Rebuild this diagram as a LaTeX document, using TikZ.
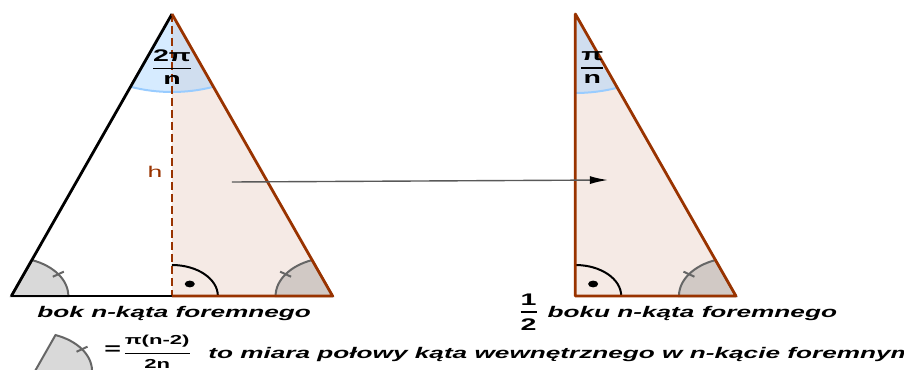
\documentclass[tikz,border=0pt]{standalone}
\usepackage{amsmath}
\usepackage{xcolor}
\usepackage{fontspec}
\setmainfont{Liberation Sans}[FakeStretch=1.7]
\usepackage{tikz}
\usetikzlibrary{arrows.meta}

\definecolor{brazowy}{RGB}{153,51,0}
\definecolor{blekit}{RGB}{153,204,255}
\definecolor{szary}{RGB}{102,102,102}

\newcommand{\ulamek}[2]{$\genfrac{}{}{0.9pt}{0}{\hbox{#1}}{\hbox{#2}}$}

\begin{document}
\begin{tikzpicture}[
            x=25pt, y=25pt, xscale=1.48,
            bok/.style={line width=1.4pt, line join=round},
            wypelnienie/.style={fill=brazowy, fill opacity=0.1},
            katsrodka/.style={fill=blekit, fill opacity=0.4},
            luksrodka/.style={draw=blekit, line width=1pt},
            katpolowy/.style={draw=szary, line width=1pt, fill=szary, fill opacity=0.25},
            kreska/.style={draw=szary, line width=1pt},
            prosty/.style={draw=black, line width=1pt},
            strzalka/.style={draw=black!65, line width=0.7pt, -{Latex[length=9pt, width=4pt, color=black]}},
            opis/.style={font=\fontsize{7.7}{9}\selectfont\bfseries\itshape, inner sep=0pt},
            ulamekstyl/.style={font=\fontsize{8.4}{10}\selectfont\bfseries, inner sep=0pt}
        ]

            % Left triangle
            \coordinate (A) at (0,5.64);
            \coordinate (L) at (-2.17,0);
            \coordinate (R) at (2.17,0);
            \coordinate (F) at (0,0);

            % Right triangle
            \coordinate (T) at (5.45,5.64);
            \coordinate (B) at (5.45,0);
            \coordinate (C) at (7.62,0);

            % Legend wedge
            \coordinate (W) at (-1.85,-1.50);

            \useasboundingbox (-2.324,-1.46) rectangle (9.892,5.92);

            % Fills
            \fill[wypelnienie] (A) -- (F) -- (R) -- cycle;
            \fill[wypelnienie] (T) -- (B) -- (C) -- cycle;

            % Central angles
            \fill[katsrodka] (A) -- ++(249:1.56) arc[start angle=249, end angle=291, radius=1.56] -- cycle;
            \draw[luksrodka] (A) ++(249:1.56) arc[start angle=249, end angle=291, radius=1.56];
            \fill[katsrodka] (T) -- ++(270:1.58) arc[start angle=270, end angle=291, radius=1.58] -- cycle;
            \draw[luksrodka] (T) ++(270:1.58) arc[start angle=270, end angle=291, radius=1.58];

            % Half interior angles
            \foreach \P/\a/\b/\m in {L/0/69/34.5, R/111/180/145.5, C/111/180/145.5, W/0/69/34.5} {
                \draw[katpolowy] (\P) -- ++(\a:0.77) arc[start angle=\a, end angle=\b, radius=0.77] -- cycle;
                \draw[kreska] (\P) ++(\m:0.68) -- ++(\m:0.18);
            }

            % Right angles
            \foreach \P in {F,B} {
                \draw[prosty] (\P) ++(0.62,0) arc[start angle=0, end angle=90, radius=0.62];
                \fill (\P) ++(45:0.34) circle[radius=1.7pt];
            }

            % Height
            \draw[brazowy, line width=0.8pt, dash pattern=on 4pt off 2pt] (A) -- (F);

            % Sides
            \draw[bok] (L) -- (A);
            \draw[bok] (L) -- (F);
            \draw[bok, brazowy] (A) -- (R) -- (F);
            \draw[bok, brazowy] (T) -- (B) -- (C) -- cycle;

            % Arrow
            \coordinate (P1) at (0.81,2.28);
            \coordinate (P2) at (5.89,2.32);
            \draw[strzalka] (P1) -- (P2);

            % Labels
            \node[ulamekstyl] (katA) at (0,4.58) {\ulamek{2π}{n}};
            \node[ulamekstyl] (katT) at (5.68,4.56) {\ulamek{π}{n}};
            \node[font=\fontsize{7.8}{9}\selectfont, text=brazowy] (h) at (-0.23,2.48) {h};
            \node[opis, anchor=base] (bok) at (0.03,-0.42) {bok n-kąta foremnego};
            \node[ulamekstyl] (pol) at (4.82,-0.32) {\ulamek{1}{2}};
            \node[opis, anchor=base west] (polbok) at (5.07,-0.42) {boku n-kąta foremnego};
            \node[ulamekstyl] (rowne) at (-0.80,-1.08) {=};
            \node[font=\fontsize{6.5}{8}\selectfont\bfseries, inner sep=0pt] (wzor) at (-0.2,-1.12) {\ulamek{π(n-2)}{2n}};
            \node[opis, anchor=base west] (miara) at (0.486,-1.24) {to miara połowy kąta wewnętrznego w n-kącie foremnym};
        \end{tikzpicture}
\end{document}
